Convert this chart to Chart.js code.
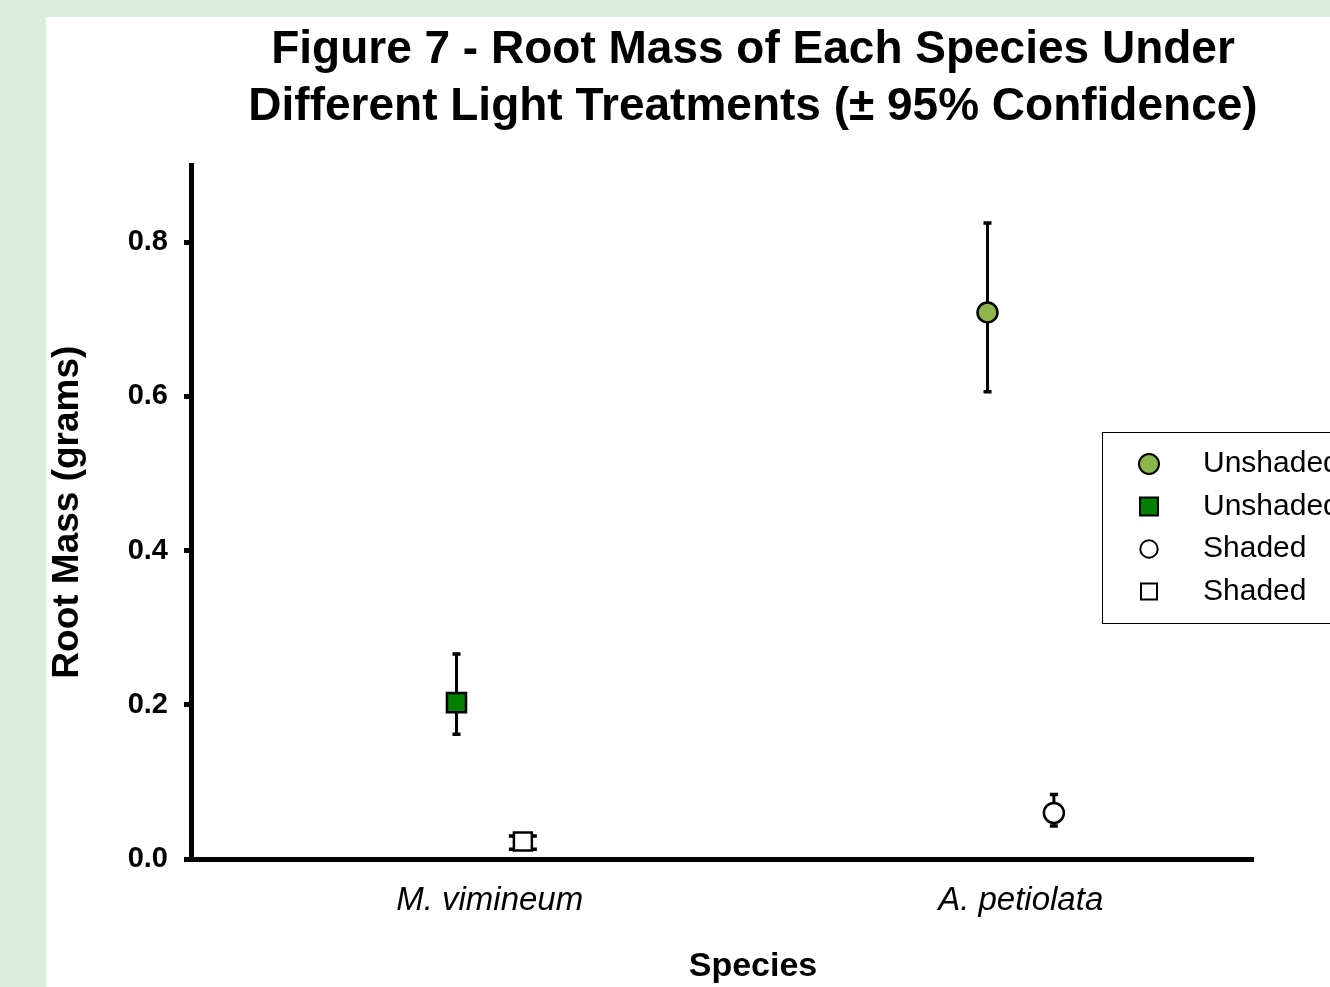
<!DOCTYPE html>
<html>
<head>
<meta charset="utf-8">
<script src="https://cdn.jsdelivr.net/npm/chart.js@4"></script>
<style>
  html, body { margin: 0; padding: 0; width: 1330px; height: 987px; overflow: hidden; background: #dcecde; }
  #panel { position: absolute; left: 46px; top: 17px; width: 1414px; height: 970px; background: #fff; }
</style>
</head>
<body>
<div id="panel"><canvas id="rootChart" width="1414" height="970"></canvas></div>
<script>
// species on the x axis, y tick values
const species = ["M. vimineum", "A. petiolata"];
const yTicks = [0, 0.2, 0.4, 0.6, 0.8];

// mean root mass (grams) and 95% confidence bounds, per species
const unshadedMean = [0.203, 0.709];
const unshadedLow = [0.162, 0.606];
const unshadedHigh = [0.266, 0.825];
const shadedMean = [0.023, 0.060];
const shadedLow = [0.013, 0.043];
const shadedHigh = [0.030, 0.084];

const FONT = '"Liberation Sans", Arial, Helvetica, sans-serif';
const shadedShift = 0.125; // shaded marker sits right of the unshaded one

// legend order: circle/square per species, unshaded first
const series = [
  { treat: "Unshaded", sp: 1, shape: "circle", fill: "#8cb64a", r: 10, legendR: 10, cap: 4 },
  { treat: "Unshaded", sp: 0, shape: "rect", fill: "#007f00", r: 13.5, legendR: 12.7, cap: 4 },
  { treat: "Shaded", sp: 1, shape: "circle", fill: "#ffffff", r: 10, legendR: 8.7, cap: 4 },
  { treat: "Shaded", sp: 0, shape: "rect", fill: "#ffffff", r: 12.7, legendR: 11.3, cap: 14 }
];

const datasets = series.map(s => {
  const un = s.treat === "Unshaded";
  const mean = un ? unshadedMean : shadedMean;
  const low = un ? unshadedLow : shadedLow;
  const high = un ? unshadedHigh : shadedHigh;
  return {
    label: s.treat,
    species: species[s.sp],
    data: [{ x: s.sp + (un ? 0 : shadedShift), y: mean[s.sp], low: low[s.sp], high: high[s.sp] }],
    pointStyle: s.shape,
    pointRadius: s.r,
    pointHoverRadius: s.r,
    backgroundColor: s.fill,
    borderColor: "#000",
    borderWidth: 2.5,
    capHalf: s.cap,
    legendRadius: s.legendR
  };
});

// vertical confidence bars, drawn under the markers
const errorBars = {
  id: "errorBars",
  beforeDatasetsDraw(chart) {
    const { ctx, scales: { x, y } } = chart;
    ctx.save();
    ctx.strokeStyle = "#000";
    ctx.lineWidth = 3;
    chart.data.datasets.forEach(ds => {
      ds.data.forEach(p => {
        const px = x.getPixelForValue(p.x);
        const lo = y.getPixelForValue(p.low);
        const hi = y.getPixelForValue(p.high);
        ctx.beginPath();
        ctx.moveTo(px, lo); ctx.lineTo(px, hi);
        ctx.stroke();
        ctx.lineWidth = 3.5;
        ctx.beginPath();
        ctx.moveTo(px - ds.capHalf, lo); ctx.lineTo(px + ds.capHalf, lo);
        ctx.moveTo(px - ds.capHalf, hi); ctx.lineTo(px + ds.capHalf, hi);
        ctx.stroke();
        ctx.lineWidth = 3;
      });
    });
    ctx.restore();
  }
};

// boxed legend sitting over the right edge of the plot
const boxLegend = {
  id: "boxLegend",
  afterDraw(chart) {
    const { ctx, chartArea } = chart;
    const left = chartArea.right - 151;
    const top = 415;
    ctx.save();
    ctx.fillStyle = "#fff";
    ctx.fillRect(left, top, 400, 191);
    ctx.strokeStyle = "#000";
    ctx.lineWidth = 1;
    ctx.strokeRect(left + 0.5, top + 0.5, 400, 191);
    ctx.font = "30px " + FONT;
    ctx.textBaseline = "middle";
    ctx.textAlign = "left";
    chart.data.datasets.forEach((ds, i) => {
      const cy = top + 32 + i * 42.5;
      ctx.fillStyle = ds.backgroundColor;
      ctx.strokeStyle = "#000";
      ctx.lineWidth = 2;
      Chart.helpers.drawPoint(ctx, { pointStyle: ds.pointStyle, radius: ds.legendRadius, borderWidth: 2, rotation: 0 }, left + 47, cy);
      ctx.fillStyle = "#000";
      ctx.fillText(ds.label, left + 101, cy);
    });
    ctx.restore();
  }
};

const ctx = document.getElementById("rootChart").getContext("2d");
new Chart(ctx, {
  type: "scatter",
  data: { datasets },
  options: {
    responsive: false,
    animation: false,
    events: [],
    plugins: {
      legend: { display: false },
      tooltip: { enabled: false },
      title: {
        display: true,
        text: ["Figure 7 - Root Mass of Each Species Under", "Different Light Treatments (\u00b1 95% Confidence)"],
        color: "#000",
        font: { family: FONT, size: 46, weight: "bold", lineHeight: 1.24 },
        padding: { top: 5, bottom: 29 }
      },
      subtitle: {
        display: true,
        position: "bottom",
        text: "Species",
        color: "#000",
        font: { family: FONT, size: 34, weight: "bold", lineHeight: 1.2 },
        padding: { top: 0, bottom: 0 }
      }
    },
    scales: {
      x: {
        type: "linear",
        min: -0.5,
        max: 1.5,
        afterBuildTicks: s => { s.ticks = species.map((_, i) => ({ value: i + shadedShift / 2 })); },
        afterFit: s => { s.height = 87; },
        ticks: {
          callback: (v, i) => species[i],
          color: "#000",
          font: { family: FONT, size: 33, style: "italic" },
          padding: 22,
          maxRotation: 0,
          autoSkip: false
        },
        grid: { display: false, drawTicks: false },
        border: { display: true, color: "#000", width: 5 }
      },
      y: {
        min: 0,
        max: 0.9,
        afterBuildTicks: s => { s.ticks = yTicks.map(v => ({ value: v })); },
        afterFit: s => { s.width = 145; },
        ticks: {
          callback: v => v.toFixed(1),
          color: "#000",
          font: { family: FONT, size: 29, weight: "bold" },
          padding: 16
        },
        grid: { drawOnChartArea: false, drawTicks: true, tickLength: 7, lineWidth: 5, color: "#000" },
        border: { display: true, color: "#000", width: 5 },
        title: {
          display: true,
          text: "Root Mass (grams)",
          color: "#000",
          font: { family: FONT, size: 37, weight: "bold", lineHeight: 1.2 },
          padding: { top: 0, bottom: 0 }
        }
      },
      // empty right-hand space reserved for the legend, keeps the titles centred on the figure
      yRight: {
        position: "right",
        afterFit: s => { s.width = 207; },
        ticks: { display: false },
        grid: { display: false, drawTicks: false },
        border: { display: false }
      }
    }
  },
  plugins: [errorBars, boxLegend]
});
</script>
</body>
</html>
